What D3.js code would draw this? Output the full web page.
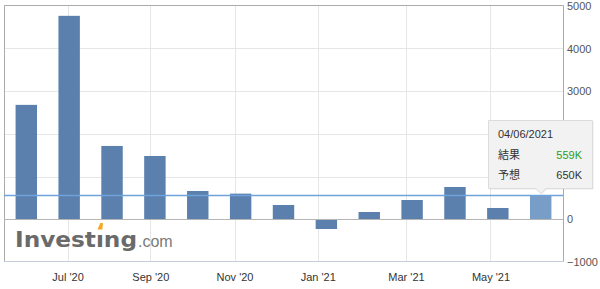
<!DOCTYPE html>
<html>
<head>
<meta charset="utf-8">
<script src="https://cdn.jsdelivr.net/npm/d3@7"></script>
<style>
    body { margin: 0; background: #fff; }
    svg { display: block; font-family: 'Liberation Sans', Arial, sans-serif; }
</style>
</head>
<body>
<svg id="chart" width="600" height="289"></svg>
<script>
// release dates (dd/mm/yyyy) and actual values, in K
const releaseDates = ['05/06/2020', '02/07/2020', '07/08/2020', '04/09/2020', '02/10/2020', '06/11/2020',
    '04/12/2020', '08/01/2021', '05/02/2021', '05/03/2021', '02/04/2021', '07/05/2021', '04/06/2021'];
const actualValues = [2680, 4765, 1718, 1483, 663, 601, 335, -227, 171, 452, 757, 265, 559];
const forecastLast = 650;
const yTicks = [-1000, 0, 1000, 2000, 3000, 4000, 5000];
const xTickDates = ['01/07/2020', '01/09/2020', '01/11/2020', '01/01/2021', '01/03/2021', '01/05/2021'];

const parse = d3.timeParse('%d/%m/%Y');
const dates = releaseDates.map(parse);

const plotLeft = 4;
const plotRight = 563;
const plotTop = 5;
const plotBottom = 261;

// hover box of the last bar
const tipBox = { x0: 488.5, x1: 592.5, y0: 120.5, y1: 188.5 };

const svg = d3.select('#chart');

const x = d3.scaleBand()
    .domain(d3.range(dates.length))
    .range([plotLeft, plotRight])
    .paddingInner(0.5)
    .paddingOuter(0.27);

// ordinal time axis: dates map piecewise onto the bar centres
const xTime = d3.scaleTime()
    .domain(dates)
    .range(dates.map((d, i) => x(i) + x.bandwidth() / 2));

const y = d3.scaleLinear()
    .domain([-1000, 5000])
    .range([262, 5.8]);

// grid
svg.append('g')
    .selectAll('line')
    .data(yTicks.filter(v => v > -1000 && v < 5000 && v !== 0))
    .enter()
    .append('line')
    .attr('x1', plotLeft)
    .attr('x2', plotRight)
    .attr('y1', d => Math.round(y(d)) + 0.5)
    .attr('y2', d => Math.round(y(d)) + 0.5)
    .style('stroke', '#e6e6e6');

svg.append('g')
    .selectAll('line')
    .data(xTickDates.map(parse))
    .enter()
    .append('line')
    .attr('x1', d => Math.round(xTime(d)) + 0.5)
    .attr('x2', d => Math.round(xTime(d)) + 0.5)
    .attr('y1', plotTop)
    .attr('y2', plotBottom)
    .style('stroke', '#e6e6e6');

// frame
svg.append('path')
    .attr('d', `M${plotLeft + 0.5},${plotBottom}V${plotTop + 0.5}H${plotRight + 0.5}V${plotBottom}`)
    .style('fill', 'none')
    .style('stroke', '#ababab');
svg.append('line')
    .attr('x1', plotLeft)
    .attr('x2', plotRight + 1)
    .attr('y1', plotBottom + 0.5)
    .attr('y2', plotBottom + 0.5)
    .style('stroke', '#c4cdd9');

// logo
const logo = svg.append('g');
const word = logo.append('text')
    .attr('x', 15)
    .attr('y', 247)
    .attr('textLength', 122)
    .attr('lengthAdjust', 'spacingAndGlyphs')
    .style('font-family', 'DejaVu Sans')
    .style('font-weight', 'bold')
    .style('font-size', '22px')
    .style('fill', '#6a6a6a')
    .text('Invest\u0131ng');
logo.append('text')
    .attr('x', 138)
    .attr('y', 247)
    .style('font-size', '16px')
    .style('fill', '#7a7a7a')
    .text('.com');
const iBox = word.node().getExtentOfChar(6);
const ix = iBox.x + iBox.width / 2;
logo.append('path')
    .attr('d', `M${ix - 2.5},229.5L${ix + 0.5},223L${ix + 3},223L${ix + 2.5},229.5Z`)
    .style('fill', '#f5a623');

// bars
svg.append('g')
    .selectAll('rect')
    .data(actualValues)
    .enter()
    .append('rect')
    .attr('x', (d, i) => x(i))
    .attr('width', x.bandwidth())
    .attr('y', d => y(Math.max(0, d)))
    .attr('height', d => Math.abs(y(d) - y(0)))
    .style('fill', (d, i) => (i === actualValues.length - 1 ? '#789dc7' : '#5b80ad'));

// zero line
svg.append('line')
    .attr('x1', plotLeft)
    .attr('x2', plotRight)
    .attr('y1', Math.round(y(0)) + 0.5)
    .attr('y2', Math.round(y(0)) + 0.5)
    .style('stroke', '#b5b5b5');

// latest actual line
const last = actualValues[actualValues.length - 1];
svg.append('line')
    .attr('x1', plotLeft)
    .attr('x2', plotRight)
    .attr('y1', y(last))
    .attr('y2', y(last))
    .style('stroke', '#6fa2da')
    .style('stroke-width', 1.5);

// axes (labels under the hover box are hidden, like in the page)
const yAxis = svg.append('g')
    .attr('transform', `translate(${plotRight},0)`)
    .call(d3.axisRight(y)
        .tickValues(yTicks.filter(v => y(v) < tipBox.y0 || y(v) > tipBox.y1))
        .tickFormat(d3.format('d'))
        .tickSize(0)
        .tickPadding(4));
yAxis.select('.domain').remove();
yAxis.selectAll('text')
    .style('font-family', 'Liberation Sans, Arial, sans-serif')
    .style('font-size', '11px')
    .style('fill', '#555');

const xAxis = svg.append('g')
    .attr('transform', `translate(0,${plotBottom})`)
    .call(d3.axisBottom(xTime)
        .tickValues(xTickDates.map(parse))
        .tickFormat(d3.timeFormat("%b '%y"))
        .tickSize(0)
        .tickPadding(12));
xAxis.select('.domain').remove();
xAxis.selectAll('text')
    .style('font-family', 'Liberation Sans, Arial, sans-serif')
    .style('font-size', '11px')
    .style('fill', '#333');

// tooltip on the last bar
const tipX = x(actualValues.length - 1) + x.bandwidth() / 2;
const tip = svg.append('g');
const tipPath = `M${tipBox.x0},${tipBox.y0}H${tipBox.x1}V${tipBox.y1}H${tipX + 5}`
    + `L${tipX},${tipBox.y1 + 5}L${tipX - 5},${tipBox.y1}H${tipBox.x0}Z`;
tip.append('path')
    .attr('d', tipPath)
    .attr('transform', 'translate(1,1)')
    .style('fill', 'rgba(0,0,0,0.08)');
tip.append('path')
    .attr('d', tipPath)
    .style('fill', '#f2f2f2')
    .style('stroke', '#dcdcdc');
tip.append('text')
    .attr('x', 498)
    .attr('y', 138)
    .style('font-size', '11px')
    .style('fill', '#333')
    .text(d3.timeFormat('%d/%m/%Y')(dates[dates.length - 1]));
const rows = [
    { label: '結果', value: `${last}K`, color: '#2a9d1e', y: 159 },
    { label: '予想', value: `${forecastLast}K`, color: '#333', y: 178.5 },
];
rows.forEach(r => {
    tip.append('text')
        .attr('x', 498)
        .attr('y', r.y)
        .style('font-family', 'Noto Sans CJK JP')
        .style('font-size', '11px')
        .style('fill', '#333')
        .text(r.label);
    tip.append('text')
        .attr('x', 582)
        .attr('y', r.y)
        .attr('text-anchor', 'end')
        .style('font-size', '11px')
        .style('fill', r.color)
        .text(r.value);
});
</script>
</body>
</html>
